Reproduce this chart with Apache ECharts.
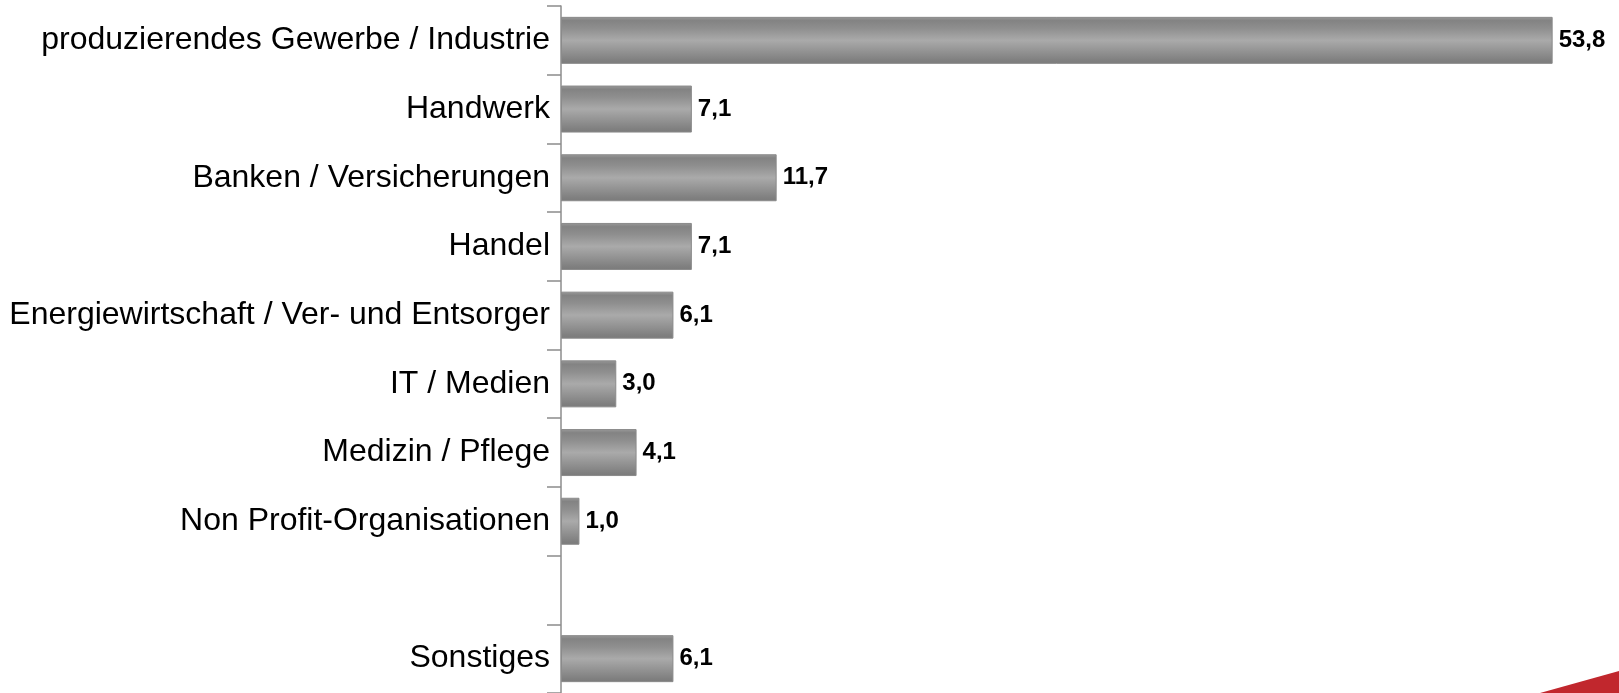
<!DOCTYPE html>
<html>
<head>
<meta charset="utf-8">
<script src="https://cdn.jsdelivr.net/npm/echarts@6/dist/echarts.min.js"></script>
<style>
html,body{margin:0;padding:0;background:#fff;}
#c{width:1619px;height:693px;}
</style>
</head>
<body>
<div id="c"></div>
<script>
const categories = [
  'produzierendes Gewerbe / Industrie',
  'Handwerk',
  'Banken / Versicherungen',
  'Handel',
  'Energiewirtschaft / Ver- und Entsorger',
  'IT / Medien',
  'Medizin / Pflege',
  'Non Profit-Organisationen',
  '',
  'Sonstiges'
];
const values = [53.8, 7.1, 11.7, 7.1, 6.1, 3.0, 4.1, 1.0, null, 6.1];

const chart = echarts.init(document.getElementById('c'));
chart.setOption({
  animation: false,
  backgroundColor: '#ffffff',
  grid: { left: 561, right: 0, top: 6, bottom: -4, containLabel: false },
  xAxis: {
    type: 'value', min: 0, max: 57.4,
    show: false
  },
  yAxis: {
    type: 'category',
    data: categories,
    inverse: true,
    axisLine: { show: true, lineStyle: { color: '#8c8c8c', width: 1.5 } },
    axisTick: { show: true, length: 14, lineStyle: { color: '#8c8c8c', width: 1.5 } },
    axisLabel: {
      margin: 11,
      fontFamily: 'Liberation Sans, Arial, sans-serif',
      fontSize: 32,
      color: '#000'
    },
    splitLine: { show: false }
  },
  series: [{
    type: 'bar',
    data: values,
    barWidth: 47,
    itemStyle: {
      color: new echarts.graphic.LinearGradient(0, 0, 0, 1, [
        { offset: 0, color: '#9a9a9a' },
        { offset: 0.08, color: '#838383' },
        { offset: 0.25, color: '#8f8f8f' },
        { offset: 0.5, color: '#aaaaaa' },
        { offset: 0.75, color: '#919191' },
        { offset: 0.92, color: '#808080' },
        { offset: 1, color: '#7a7a7a' }
      ]),
      borderColor: '#8a8a8a',
      borderWidth: 1
    },
    label: {
      show: true,
      position: 'right',
      distance: 6,
      fontFamily: 'Liberation Sans, Arial, sans-serif',
      fontSize: 24,
      fontWeight: 'bold',
      color: '#000',
      formatter: p => p.value == null ? '' : p.value.toFixed(1).replace('.', ',')
    }
  }],
  graphic: [{
    type: 'polygon',
    shape: { points: [[1540, 693], [1619, 671], [1619, 693]] },
    style: { fill: '#c1272d' },
    silent: true
  }]
});
</script>
</body>
</html>
